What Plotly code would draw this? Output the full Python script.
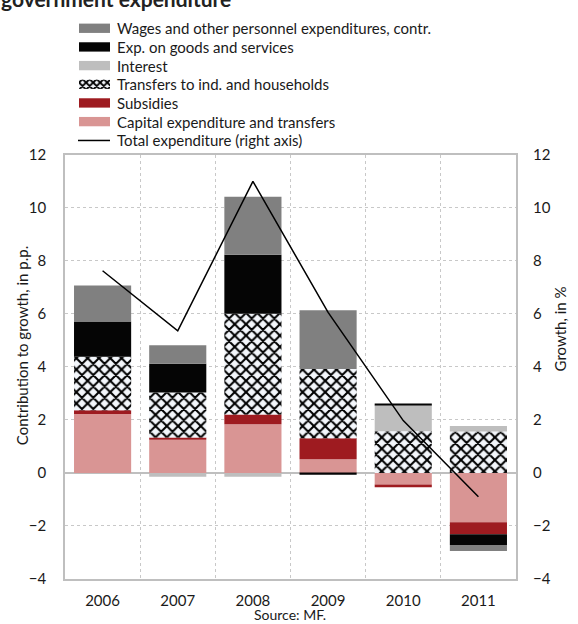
import plotly.graph_objects as go

# ---- data -------------------------------------------------------------
years = ["2006", "2007", "2008", "2009", "2010", "2011"]

capital = [2.22, 1.25, 1.83, 0.51, -0.44, -1.86]
subsidies = [0.14, 0.08, 0.37, 0.80, -0.10, -0.45]
transfers = [2.02, 1.70, 3.80, 2.61, 1.57, 1.56]
interest = [0.00, -0.15, -0.15, 0.00, 1.00, 0.21]
goods = [1.33, 1.08, 2.22, -0.07, 0.04, -0.41]
wages = [1.35, 0.70, 2.19, 2.21, 0.00, -0.22]
total_growth = [7.62, 5.35, 10.99, 6.05, 1.97, -0.90]

series_names = [
    "Wages and other personnel expenditures, contr.",
    "Exp. on goods and services",
    "Interest",
    "Transfers to ind. and households",
    "Subsidies",
    "Capital expenditure and transfers",
]
line_name = "Total expenditure (right axis)"

# ---- style -------------------------------------------------------------
FONT = "Lato"
TXT = "#1a1a1a"
C_WAGES = "#808080"
C_GOODS = "#050505"
C_INTEREST = "#BEBEBE"
C_TRANSF_BG = "#F3F6FB"
C_SUBS = "#9E1B20"
C_CAP = "#D99594"
GRID = "#C8C8C8"
FRAME = "#BFBFBF"

W, H = 578, 624
ML, MR, MT, MB = 65, 62, 5, 45
PW, PH = W - ML - MR, H - MT - MB
PLOT_TOP = 147  # pixel row of the upper edge of the plotting area


def px_x(px):
    return (px - ML) / PW


def px_y(py):
    return (H - MB - py) / PH


PATTERN = dict(fgcolor="black", bgcolor=C_TRANSF_BG, size=8, solidity=0.45,
               fillmode="replace")

fig = go.Figure()

# stacking order: first trace sits next to the zero line
stack = [
    (series_names[5], capital, dict(color=C_CAP)),
    (series_names[4], subsidies, dict(color=C_SUBS)),
    (series_names[3], transfers, dict(color=C_TRANSF_BG, pattern=dict(shape="x", **PATTERN))),
    (series_names[2], interest, dict(color=C_INTEREST)),
    (series_names[1], goods, dict(color=C_GOODS)),
    (series_names[0], wages, dict(color=C_WAGES)),
]
for name, vals, marker in stack:
    fig.add_trace(go.Bar(x=years, y=vals, name=name, marker=dict(line=dict(width=0), **marker),
                         showlegend=False, hoverinfo="skip"))

fig.add_trace(go.Scatter(x=years, y=total_growth, name=line_name, mode="lines",
                         line=dict(color="black", width=1.5), yaxis="y2",
                         showlegend=False))

# ---- legend swatches on a small helper axis --------------------------
legend_rows = list(range(len(series_names)))
legend_colors = [C_WAGES, C_GOODS, C_INTEREST, C_TRANSF_BG, C_SUBS, C_CAP]
solid_rows = [r for r in legend_rows if r != 3]
fig.add_trace(go.Bar(
    x=[1] * len(solid_rows), y=solid_rows, orientation="h", width=0.5,
    marker=dict(color=[legend_colors[r] for r in solid_rows], line=dict(width=0)),
    xaxis="x3", yaxis="y3", showlegend=False, hoverinfo="skip"))
fig.add_trace(go.Bar(
    x=[1], y=[3], orientation="h", width=0.5,
    marker=dict(color=C_TRANSF_BG, line=dict(width=0),
                pattern=dict(shape="x", fgcolor="black", bgcolor=C_TRANSF_BG,
                             size=5, solidity=0.6, fillmode="replace")),
    xaxis="x3", yaxis="y3", showlegend=False, hoverinfo="skip"))

row_px = [18.5 + 19 * i for i in legend_rows]
LEG_FONT = dict(family=FONT, size=15, color=TXT)
annotations = []
for name, py in zip(series_names, row_px):
    annotations.append(dict(text=name, x=px_x(115), y=px_y(py), xref="paper", yref="paper",
                            xanchor="left", yanchor="middle", showarrow=False, font=LEG_FONT))
line_row = 132.7
annotations.append(dict(text=line_name, x=px_x(115), y=px_y(line_row), xref="paper", yref="paper",
                        xanchor="left", yanchor="middle", showarrow=False, font=LEG_FONT))

# heading (runs above the top edge of the page)
annotations.append(dict(text="<b>government expenditure</b>", x=px_x(-1), y=px_y(-12),
                        xref="paper", yref="paper", xanchor="left", yanchor="middle",
                        showarrow=False, font=dict(family=FONT, size=21, color="#222")))

# axis titles
annotations.append(dict(text="Contribution to growth, in p.p.", x=px_x(22), y=px_y(342),
                        xref="paper", yref="paper", textangle=-90, showarrow=False,
                        xanchor="center", yanchor="middle", font=LEG_FONT))
annotations.append(dict(text="Growth, in %", x=px_x(560), y=px_y(325),
                        xref="paper", yref="paper", textangle=-90, showarrow=False,
                        xanchor="center", yanchor="middle", font=LEG_FONT))
annotations.append(dict(text="Source: MF.", x=px_x(290), y=px_y(615),
                        xref="paper", yref="paper", showarrow=False, borderpad=0,
                        xanchor="center", yanchor="middle",
                        font=dict(family=FONT, size=14, color=TXT)))

shapes = [dict(type="line", xref="paper", yref="paper", x0=px_x(78), x1=px_x(110),
               y0=px_y(line_row), y1=px_y(line_row), line=dict(color="black", width=1.5))]

main_top = px_y(PLOT_TOP)
tick_font = dict(family=FONT, size=15, color=TXT)

fig.update_layout(
    width=W, height=H,
    margin=dict(l=ML, r=MR, t=MT, b=MB),
    paper_bgcolor="white", plot_bgcolor="white",
    barmode="relative", bargap=0.24,
    font=dict(family=FONT, color=TXT),
    showlegend=False,
    annotations=annotations,
    shapes=shapes,
    xaxis=dict(type="category", tickson="boundaries", showgrid=True,
               gridcolor=GRID, griddash="dot", gridwidth=1,
               showline=True, mirror=True, linecolor=FRAME, linewidth=1.5,
               ticks="", tickfont=tick_font, ticklabelstandoff=7,
               domain=[0, 1], anchor="y"),
    yaxis=dict(range=[-4, 12], dtick=2, domain=[0, main_top],
               showgrid=True, gridcolor=GRID, griddash="dot", gridwidth=1,
               zeroline=True, zerolinecolor=FRAME, zerolinewidth=2,
               showline=True, mirror=True, linecolor=FRAME, linewidth=1.5,
               ticks="", tickfont=tick_font, ticklabelstandoff=14),
    yaxis2=dict(range=[-4, 12], dtick=2, overlaying="y", side="right",
                showgrid=False, zeroline=False, ticks="", tickfont=tick_font,
                ticklabelstandoff=16),
    xaxis3=dict(domain=[px_x(79), px_x(110)], range=[0, 1], visible=False,
                anchor="y3", fixedrange=True),
    yaxis3=dict(domain=[px_y(123), px_y(9)], range=[5.5, -0.5], visible=False,
                anchor="x3", fixedrange=True),
)

fig.write_html("out.html")
